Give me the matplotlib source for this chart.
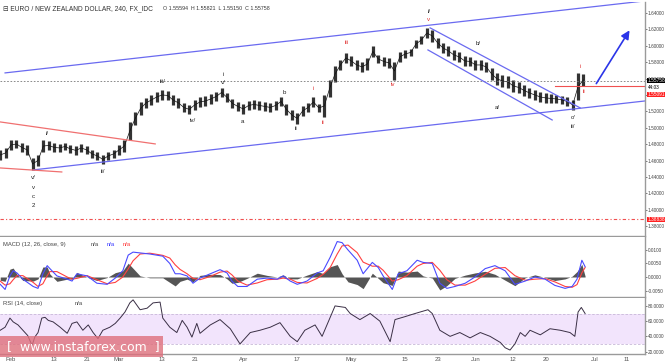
import numpy as np
import matplotlib.pyplot as plt
from matplotlib.ticker import FixedLocator, FormatStrFormatter
import matplotlib.transforms as mtrans

plt.rcParams["font.family"] = ["Liberation Sans", "DejaVu Sans"]

# ---- data (x = trading days counted from 2017-02-01) ----
days = np.arange(-2, 107)
highs = [1.4729, 1.4754, 1.4851, 1.4851, 1.4815, 1.4791, 1.4632, 1.4669, 1.4851, 1.4839,
         1.4815, 1.4803, 1.4815, 1.4791, 1.4779, 1.4803, 1.4779, 1.4730, 1.4705, 1.4669,
         1.4705, 1.4730, 1.4791, 1.4851, 1.5071, 1.5193, 1.5315, 1.5364, 1.5400, 1.5437,
         1.5461, 1.5449, 1.5400, 1.5364, 1.5303, 1.5278, 1.5339, 1.5376, 1.5388, 1.5412,
         1.5437, 1.5486, 1.5425, 1.5352, 1.5315, 1.5291, 1.5327, 1.5339, 1.5327, 1.5315,
         1.5303, 1.5327, 1.5376, 1.5291, 1.5217, 1.5181, 1.5266, 1.5303, 1.5376, 1.5291,
         1.5400, 1.5583, 1.5754, 1.5827, 1.5913, 1.5876, 1.5827, 1.5803, 1.5852, 1.5998,
         1.5888, 1.5864, 1.5852, 1.5803, 1.5925, 1.5949, 1.5961, 1.6071, 1.6120, 1.6217,
         1.6193, 1.6095, 1.6034, 1.5998, 1.5949, 1.5925, 1.5876, 1.5864, 1.5827, 1.5827,
         1.5803, 1.5730, 1.5669, 1.5644, 1.5632, 1.5583, 1.5559, 1.5522, 1.5486, 1.5461,
         1.5437, 1.5425, 1.5412, 1.5400, 1.5388, 1.5376, 1.5339, 1.5669, 1.5657]
lows = [1.4608, 1.4632, 1.4729, 1.4754, 1.4705, 1.4669, 1.4486, 1.4535, 1.4705, 1.4729,
        1.4705, 1.4705, 1.4729, 1.4693, 1.4669, 1.4705, 1.4681, 1.4632, 1.4608, 1.4559,
        1.4608, 1.4632, 1.4669, 1.4705, 1.4851, 1.5035, 1.5157, 1.5242, 1.5278, 1.5315,
        1.5339, 1.5339, 1.5278, 1.5242, 1.5193, 1.5169, 1.5217, 1.5254, 1.5266, 1.5290,
        1.5327, 1.5376, 1.5315, 1.5242, 1.5205, 1.5169, 1.5217, 1.5230, 1.5217, 1.5205,
        1.5193, 1.5217, 1.5266, 1.5157, 1.5095, 1.5047, 1.5144, 1.5193, 1.5254, 1.5193,
        1.5132, 1.5376, 1.5559, 1.5705, 1.5790, 1.5754, 1.5705, 1.5681, 1.5705, 1.5864,
        1.5791, 1.5754, 1.5730, 1.5583, 1.5803, 1.5852, 1.5876, 1.5974, 1.6022, 1.6095,
        1.6047, 1.5974, 1.5913, 1.5876, 1.5827, 1.5803, 1.5754, 1.5754, 1.5705, 1.5705,
        1.5681, 1.5583, 1.5522, 1.5498, 1.5486, 1.5437, 1.5425, 1.5388, 1.5364, 1.5339,
        1.5315, 1.5303, 1.5303, 1.5303, 1.5291, 1.5266, 1.5217, 1.5339, 1.5510]

last_price = 1.55758
support_price = 1.55091
target_price = 1.38838

# trend lines [(day, price), (day, price)]
channel_up = [(-1.1, 1.5669), (117.4, 1.6547)]
channel_low = [(4.1, 1.4486), (117.4, 1.5327)]
wedge_up = [(-2.0, 1.5071), (26.7, 1.4803)]
wedge_low = [(-2.0, 1.4510), (9.4, 1.4461)]
fall_up = [(77.6, 1.6218), (105.4, 1.5242)]
fall_low = [(77.2, 1.5949), (100.2, 1.5095)]
arrow_pts = [(108.1, 1.5510), (114.8, 1.6217)]

# wave labels (text, day, price, colour)
waves = [("i/", 6.7, 1.4925, "k"), ("v/", 4.1, 1.4388, "k"), ("v", 4.1, 1.4266, "k"),
         ("c", 4.1, 1.4157, "k"), ("2", 4.1, 1.4047, "k"), ("ii/", 17.0, 1.4461, "k"),
         ("iii/", 28.1, 1.5559, "k"), ("iv/", 33.7, 1.5083, "k"), ("i", 39.3, 1.5644, "k"),
         ("v/", 39.3, 1.5547, "k"), ("a", 42.8, 1.5071, "k"), ("b", 50.6, 1.5425, "k"),
         ("ii", 52.8, 1.4986, "k"), ("i", 55.9, 1.5474, "r"), ("ii", 57.8, 1.5059, "r"),
         ("iii", 62.2, 1.6035, "r"), ("iv", 70.7, 1.5522, "r"), ("v", 77.4, 1.6315, "r"),
         ("i/", 77.4, 1.6413, "k"), ("b/", 86.5, 1.6022, "k"), ("a/", 90.0, 1.5242, "k"),
         ("c/", 104.1, 1.5120, "k"), ("ii/", 104.1, 1.5010, "k"), ("i", 105.4, 1.5742, "r"),
         ("ii", 106.1, 1.5437, "r")]

# MACD (x1e-4)
macd_day = [-2.0, -1.1, -0.2, 0.4, 1.1, 2.2, 4.1, 5.0, 5.9, 6.7, 7.2, 8.5, 10.4, 11.3, 12.2,
            14.1, 15.9, 17.8, 19.3, 20.7, 21.7, 22.6, 23.9, 25.7, 28.1, 29.4, 30.4, 31.3,
            32.6, 33.7, 35.0, 36.9, 38.7, 40.0, 40.9, 42.0, 43.7, 45.6, 47.4, 49.3, 50.4,
            51.7, 53.0, 54.8, 56.7, 57.8, 59.1, 60.4, 61.3, 62.4, 64.1, 65.2, 66.9, 68.0,
            68.9, 70.6, 71.7, 73.3, 75.2, 76.3, 78.0, 79.4, 80.7, 82.2, 84.1, 85.9, 87.8,
            89.6, 91.5, 93.3, 95.2, 97.0, 98.9, 100.7, 102.6, 103.9, 104.8, 105.7, 106.3]
macd_line = [-27, -46, 4, 23, 15, -8, -35, -42, 12, 42, 31, 4, -8, -15, 12,
             4, -23, -27, -4, 23, 81, 92, 89, 85, 77, 50, 12, 12,
             4, -23, -4, 12, 27, 15, -15, -35, -35, -8, -4, -8, 4,
             -15, -27, -15, 15, 23, 73, 131, 127, 100, 62, 12, 54, 35,
             4, -46, 12, 23, 62, 54, 50, -23, -42, -35, -23, 0, 31,
             42, 23, -27, -15, 0, -8, -31, -42, -35, -8, 62, 38]
signal_line = [-15, -30, -25, -10, 5, 5, -20, -35, -25, 5, 20, 20, 0, -8, -5,
               5, -10, -25, -20, 0, 30, 60, 85, 88, 80, 70, 45, 28,
               12, -5, -10, 2, 18, 22, 8, -15, -30, -22, -10, -8, -4,
               -8, -20, -22, -5, 10, 35, 85, 115, 118, 90, 55, 40, 40,
               25, -15, -10, 5, 40, 50, 54, 25, -10, -30, -30, -15, 10,
               32, 35, 5, -12, -8, -6, -18, -35, -38, -28, 15, 35]

# RSI(14)
rsi_day = [-2.0, -1.1, -0.2, 0.4, 1.3, 2.2, 3.1, 3.9, 4.4, 5.0, 5.7, 6.3, 6.9, 7.8, 9.1,
           10.4, 11.3, 12.2, 13.3, 14.3, 15.2, 16.1, 17.0, 18.3, 19.3, 20.2, 21.1, 22.0,
           22.6, 23.9, 25.2, 26.3, 27.6, 28.1, 29.4, 30.7, 31.7, 32.6, 33.5, 34.4, 35.0,
           36.9, 38.7, 40.6, 42.4, 44.3, 46.1, 48.0, 49.8, 51.7, 53.0, 54.4, 56.3, 57.6,
           59.1, 60.0, 61.9, 62.8, 64.6, 66.5, 68.3, 70.2, 71.1, 73.0, 74.8, 77.2, 78.0,
           79.4, 81.3, 83.1, 85.0, 86.9, 88.7, 90.6, 91.5, 92.4, 93.3, 94.3, 95.2, 96.1,
           98.0, 99.8, 101.7, 103.5, 104.4, 105.0, 105.6, 106.3]
rsi_val = [48, 52, 64, 59, 55, 48, 41, 28, 39, 45, 64, 65, 61, 59, 52,
           44, 57, 59, 48, 55, 45, 37, 48, 52, 57, 64, 72, 84,
           88, 75, 77, 84, 85, 64, 52, 45, 61, 52, 39, 57, 44,
           55, 62, 50, 30, 45, 48, 52, 58, 40, 33, 48, 55, 40,
           65, 80, 78, 70, 62, 70, 60, 33, 62, 66, 70, 75, 70,
           48, 40, 45, 38, 45, 40, 32, 25, 22, 30, 45, 40, 48,
           42, 50, 48, 45, 40, 72, 78, 70]

tick_dates = ["2017-02-01", "2017-02-13", "2017-02-21", "2017-03-01", "2017-03-13",
              "2017-03-21", "2017-04-03", "2017-04-17", "2017-05-01", "2017-05-15",
              "2017-05-23", "2017-06-01", "2017-06-12", "2017-06-20", "2017-07-03",
              "2017-07-11"]
tick_labels = ["Feb", "13", "21", "Mar", "13", "21", "Apr", "17", "May", "15", "23",
               "Jun", "12", "20", "Jul", "11"]
tick_pos = np.busday_count("2017-02-01", tick_dates)

# ---- figure ----
fig = plt.figure(figsize=(6.65, 3.64), dpi=100)
ax1 = fig.add_axes([0, 0.3516, 0.970, 0.643])
ax2 = fig.add_axes([0, 0.184, 0.970, 0.165])
ax3 = fig.add_axes([0, 0.0275, 0.970, 0.154])

xmin, xmax = -2.04, 117.4
for ax in (ax1, ax2, ax3):
    ax.set_xlim(xmin, xmax)
    ax.yaxis.tick_right()
    ax.tick_params(axis="y", labelsize=3.4, colors="#444444", length=1.2, width=0.5, pad=0.8)
    ax.tick_params(axis="x", length=0)
    for s in ("left", "top"):
        ax.spines[s].set_visible(False)
    ax.spines["right"].set_color("#9a9a9a")
    ax.spines["bottom"].set_color("#9a9a9a")
    ax.spines["right"].set_linewidth(1.0)
    ax.spines["bottom"].set_linewidth(1.0)
    ax.set_xticks(tick_pos)
ax1.set_xticklabels([])
ax2.set_xticklabels([])
ax3.set_xticklabels(tick_labels, fontsize=4.3, color="#555555")
ax3.tick_params(axis="x", pad=2)

# main price panel
ax1.set_ylim(1.3680, 1.6534)
ax1.yaxis.set_major_locator(FixedLocator(np.arange(1.38, 1.65, 0.02)))
ax1.yaxis.set_major_formatter(FormatStrFormatter("%.5f"))
ax1.vlines(days, lows, highs, color="#333333", lw=2.3)
mids = (np.array(highs) + np.array(lows)) / 2
ax1.plot(days, mids, color="#111111", lw=0.5)

ax1.axhline(last_price, color="#777777", lw=0.6, ls=(0, (2, 2)))
ax1.axhline(target_price, color="#f05050", lw=0.8, ls=(0, (3, 2, 1, 2)))
ax1.plot([100.7, xmax], [support_price] * 2, color="#f05050", lw=0.8)

for line, col in ((channel_up, "#6a6af0"), (channel_low, "#6a6af0"),
                  (fall_up, "#6a6af0"), (fall_low, "#6a6af0"),
                  (wedge_up, "#f07070"), (wedge_low, "#f07070")):
    ax1.plot([line[0][0], line[1][0]], [line[0][1], line[1][1]], color=col, lw=0.9)

ax1.annotate("", xy=arrow_pts[1], xytext=arrow_pts[0],
             arrowprops=dict(arrowstyle="-|>,head_length=0.5,head_width=0.25",
                             color="#2b35e8", lw=1.2))

for txt, d, p, c in waves:
    ax1.text(d, p, txt, fontsize=4.4, color="#e03030" if c == "r" else "#222222",
             ha="center", va="center")

ax1.text(0.005, 0.97, "\u229f EURO / NEW ZEALAND DOLLAR, 240, FX_IDC",
         transform=ax1.transAxes, fontsize=4.8, color="#333333", va="center")
ax1.text(0.253, 0.97, "O 1.55594  H 1.55821  L 1.55150  C 1.55758",
         transform=ax1.transAxes, fontsize=3.8, color="#333333", va="center")

trans1 = mtrans.blended_transform_factory(ax1.transAxes, ax1.transData)
lbl = dict(transform=trans1, fontsize=3.4, va="center")
ax1.text(1.004, last_price, "1.55758", color="white",
         bbox=dict(boxstyle="square,pad=0.05", fc="black", ec="none"), **lbl)
ax1.text(1.004, 1.5494, "44:03", color="black",
         bbox=dict(boxstyle="square,pad=0.05", fc="white", ec="none"), **lbl)
ax1.text(1.004, 1.5408, "1.55091", color="white",
         bbox=dict(boxstyle="square,pad=0.05", fc="#ff2020", ec="none"), **lbl)
ax1.text(1.004, target_price, "1.38838", color="white",
         bbox=dict(boxstyle="square,pad=0.05", fc="#ff2020", ec="none"), **lbl)

# MACD panel
m = np.array(macd_line) / 1e4
s = np.array(signal_line) / 1e4
ax2.set_ylim(-0.0074, 0.0148)
ax2.yaxis.set_major_locator(FixedLocator([-0.005, 0.0, 0.005, 0.01]))
ax2.yaxis.set_major_formatter(FormatStrFormatter("%.4f"))
ax2.fill_between(macd_day, m - s, 0, color="#555555", lw=0)
ax2.plot(macd_day, s, color="#ff4040", lw=0.8)
ax2.plot(macd_day, m, color="#4a4aff", lw=0.8)
ax2.text(0.005, 0.87, "MACD (12, 26, close, 9)", transform=ax2.transAxes,
         fontsize=4.2, color="#444444", va="center")
ax2.text(0.14, 0.87, "n/a", transform=ax2.transAxes, fontsize=4.2, color="#444444", va="center")
ax2.text(0.165, 0.87, "n/a", transform=ax2.transAxes, fontsize=4.2, color="#3030ff", va="center")
ax2.text(0.19, 0.87, "n/a", transform=ax2.transAxes, fontsize=4.2, color="#ff3030", va="center")

# RSI panel
ax3.set_ylim(16.8, 90.5)
ax3.yaxis.set_major_locator(FixedLocator([20, 40, 60, 80]))
ax3.yaxis.set_major_formatter(FormatStrFormatter("%.4f"))
ax3.axhspan(30, 70, color="#f2e4fc", lw=0)
ax3.axhline(70, color="#c8b8d8", lw=0.6, ls=(0, (3, 2)))
ax3.axhline(30, color="#c8b8d8", lw=0.6, ls=(0, (3, 2)))
ax3.plot(rsi_day, rsi_val, color="#3a2f45", lw=0.7)
ax3.text(0.005, 0.9, "RSI (14, close)", transform=ax3.transAxes,
         fontsize=4.2, color="#444444", va="center")
ax3.text(0.115, 0.9, "n/a", transform=ax3.transAxes, fontsize=4.2, color="#444444", va="center")

# watermark
fig.patches.append(plt.Rectangle((0, 7 / 364), 163 / 665, 21 / 364, transform=fig.transFigure,
                                 fc="#de6f7c", alpha=0.8, ec="none", zorder=10))
fig.text(0.125, 0.048, "[  www.instaforex.com  ]", fontsize=9, color="white",
         ha="center", va="center", zorder=11, family="DejaVu Sans")

fig.savefig("out.png", dpi=100)
